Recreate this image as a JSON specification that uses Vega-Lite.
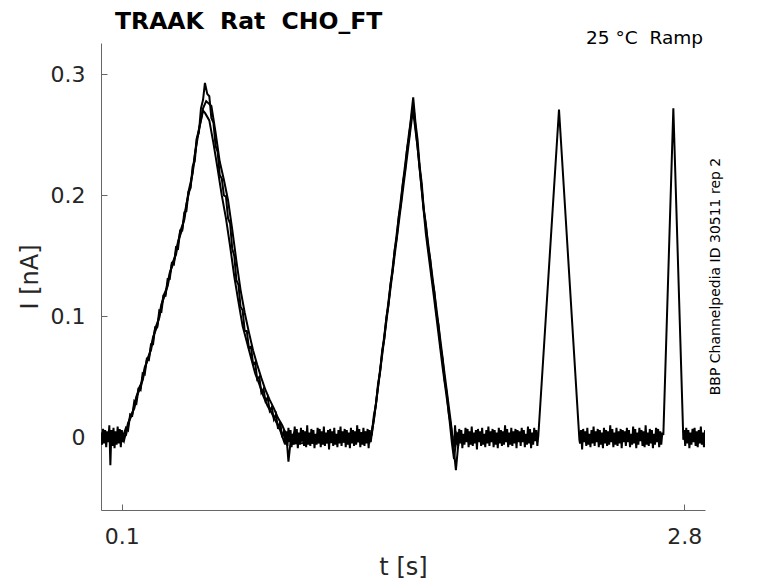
{
  "$schema": "https://vega.github.io/schema/vega-lite/v6.json",
  "width": 604,
  "height": 467,
  "autosize": {"type": "none"},
  "padding": {"left": 101, "top": 43, "right": 73, "bottom": 73},
  "config": {
    "font": "DejaVu Sans",
    "view": {"stroke": null},
    "axis": {
      "grid": false,
      "domainColor": "#666666",
      "tickColor": "#666666",
      "labelColor": "#262626",
      "titleColor": "#262626",
      "labelFontSize": 22,
      "titleFontSize": 24,
      "titleFontWeight": "normal",
      "tickSize": -6,
      "labelPadding": 22,
      "labelFlush": false
    }
  },
  "title": {
    "text": "TRAAK\u00a0 Rat\u00a0 CHO_FT",
    "anchor": "start",
    "frame": "group",
    "dx": 14,
    "offset": -4,
    "fontSize": 23.5,
    "fontWeight": "bold",
    "color": "#000000"
  },
  "datasets": {
    "a": [
      {"t": 0.000, "i": 0.004}, {"t": 0.005, "i": -0.006}, {"t": 0.010, "i": 0.007}, {"t": 0.015, "i": -0.005},
      {"t": 0.020, "i": 0.006}, {"t": 0.025, "i": -0.008}, {"t": 0.030, "i": 0.005}, {"t": 0.035, "i": -0.004},
      {"t": 0.040, "i": 0.010}, {"t": 0.045, "i": -0.023}, {"t": 0.050, "i": 0.006}, {"t": 0.055, "i": -0.007},
      {"t": 0.060, "i": 0.008}, {"t": 0.065, "i": -0.009}, {"t": 0.070, "i": 0.005}, {"t": 0.075, "i": -0.006},
      {"t": 0.080, "i": 0.009}, {"t": 0.085, "i": -0.005}, {"t": 0.090, "i": 0.007}, {"t": 0.095, "i": -0.008},
      {"t": 0.100, "i": 0.006}, {"t": 0.105, "i": -0.004}, {"t": 0.110, "i": 0.003},
      {"t": 0.12, "i": 0.008}, {"t": 0.13, "i": 0.006}, {"t": 0.14, "i": 0.019}, {"t": 0.15, "i": 0.018},
      {"t": 0.16, "i": 0.030}, {"t": 0.17, "i": 0.028}, {"t": 0.18, "i": 0.040}, {"t": 0.19, "i": 0.039},
      {"t": 0.20, "i": 0.053}, {"t": 0.21, "i": 0.052}, {"t": 0.22, "i": 0.065}, {"t": 0.23, "i": 0.064},
      {"t": 0.24, "i": 0.077}, {"t": 0.25, "i": 0.077}, {"t": 0.26, "i": 0.091}, {"t": 0.27, "i": 0.091},
      {"t": 0.28, "i": 0.105}, {"t": 0.29, "i": 0.104}, {"t": 0.30, "i": 0.117}, {"t": 0.31, "i": 0.117},
      {"t": 0.32, "i": 0.131}, {"t": 0.33, "i": 0.131}, {"t": 0.34, "i": 0.144}, {"t": 0.35, "i": 0.143},
      {"t": 0.36, "i": 0.157}, {"t": 0.37, "i": 0.156}, {"t": 0.38, "i": 0.171}, {"t": 0.39, "i": 0.171},
      {"t": 0.40, "i": 0.186}, {"t": 0.41, "i": 0.187}, {"t": 0.42, "i": 0.203}, {"t": 0.43, "i": 0.206},
      {"t": 0.44, "i": 0.224}, {"t": 0.45, "i": 0.228}, {"t": 0.46, "i": 0.247}, {"t": 0.47, "i": 0.252},
      {"t": 0.48, "i": 0.272}, {"t": 0.49, "i": 0.279}, {"t": 0.499, "i": 0.293},
      {"t": 0.51, "i": 0.284}, {"t": 0.52, "i": 0.282}, {"t": 0.53, "i": 0.264}, {"t": 0.54, "i": 0.260},
      {"t": 0.55, "i": 0.241}, {"t": 0.56, "i": 0.236}, {"t": 0.57, "i": 0.217}, {"t": 0.58, "i": 0.214},
      {"t": 0.59, "i": 0.200}, {"t": 0.60, "i": 0.199}, {"t": 0.61, "i": 0.181}, {"t": 0.62, "i": 0.177},
      {"t": 0.63, "i": 0.156}, {"t": 0.64, "i": 0.150}, {"t": 0.65, "i": 0.130}, {"t": 0.66, "i": 0.126},
      {"t": 0.67, "i": 0.108}, {"t": 0.68, "i": 0.105}, {"t": 0.69, "i": 0.088}, {"t": 0.70, "i": 0.088},
      {"t": 0.71, "i": 0.074}, {"t": 0.72, "i": 0.075}, {"t": 0.73, "i": 0.061}, {"t": 0.74, "i": 0.062},
      {"t": 0.75, "i": 0.048}, {"t": 0.76, "i": 0.050}, {"t": 0.77, "i": 0.037}, {"t": 0.78, "i": 0.040},
      {"t": 0.79, "i": 0.030}, {"t": 0.80, "i": 0.033}, {"t": 0.81, "i": 0.022}, {"t": 0.82, "i": 0.025},
      {"t": 0.83, "i": 0.015}, {"t": 0.84, "i": 0.019}, {"t": 0.85, "i": 0.007}, {"t": 0.86, "i": 0.013},
      {"t": 0.87, "i": 0.000}, {"t": 0.88, "i": 0.006}, {"t": 0.885, "i": -0.006},
      {"t": 0.890, "i": 0.005}, {"t": 0.895, "i": -0.007}, {"t": 0.900, "i": 0.008}, {"t": 0.905, "i": -0.004},
      {"t": 0.910, "i": 0.006}, {"t": 0.915, "i": -0.008}, {"t": 0.920, "i": 0.003}, {"t": 0.925, "i": -0.006},
      {"t": 0.930, "i": 0.009}, {"t": 0.935, "i": -0.005}, {"t": 0.940, "i": 0.007}, {"t": 0.945, "i": -0.009},
      {"t": 0.950, "i": 0.004}, {"t": 0.955, "i": -0.006}, {"t": 0.960, "i": 0.008}, {"t": 0.965, "i": -0.003},
      {"t": 0.970, "i": 0.006}, {"t": 0.975, "i": -0.007}, {"t": 0.980, "i": 0.005}, {"t": 0.985, "i": -0.008},
      {"t": 0.990, "i": 0.010}, {"t": 0.995, "i": -0.006}, {"t": 1.000, "i": 0.004}, {"t": 1.005, "i": -0.007},
      {"t": 1.010, "i": 0.007}, {"t": 1.015, "i": -0.005}, {"t": 1.020, "i": 0.006}, {"t": 1.025, "i": -0.009},
      {"t": 1.030, "i": 0.003}, {"t": 1.035, "i": -0.006}, {"t": 1.040, "i": 0.008}, {"t": 1.045, "i": -0.004},
      {"t": 1.050, "i": 0.007}, {"t": 1.055, "i": -0.008}, {"t": 1.060, "i": 0.005}, {"t": 1.065, "i": -0.006},
      {"t": 1.070, "i": 0.009}, {"t": 1.075, "i": -0.007}, {"t": 1.080, "i": 0.004}, {"t": 1.085, "i": -0.005},
      {"t": 1.090, "i": 0.006}, {"t": 1.095, "i": -0.010}, {"t": 1.100, "i": 0.007}, {"t": 1.105, "i": -0.004},
      {"t": 1.110, "i": 0.005}, {"t": 1.115, "i": -0.007}, {"t": 1.120, "i": 0.008}, {"t": 1.125, "i": -0.006},
      {"t": 1.130, "i": 0.003}, {"t": 1.135, "i": -0.008}, {"t": 1.140, "i": 0.006}, {"t": 1.145, "i": -0.005},
      {"t": 1.150, "i": 0.009}, {"t": 1.155, "i": -0.007}, {"t": 1.160, "i": 0.005}, {"t": 1.165, "i": -0.004},
      {"t": 1.170, "i": 0.007}, {"t": 1.175, "i": -0.008}, {"t": 1.180, "i": 0.006}, {"t": 1.185, "i": -0.006},
      {"t": 1.190, "i": 0.004}, {"t": 1.195, "i": -0.009}, {"t": 1.200, "i": 0.008}, {"t": 1.205, "i": -0.005},
      {"t": 1.210, "i": 0.006}, {"t": 1.215, "i": -0.007}, {"t": 1.220, "i": 0.005}, {"t": 1.225, "i": -0.006},
      {"t": 1.230, "i": 0.010}, {"t": 1.235, "i": -0.004}, {"t": 1.240, "i": 0.007}, {"t": 1.245, "i": -0.008},
      {"t": 1.250, "i": 0.004}, {"t": 1.255, "i": -0.006}, {"t": 1.260, "i": 0.008}, {"t": 1.265, "i": -0.007},
      {"t": 1.270, "i": 0.005}, {"t": 1.275, "i": -0.005}, {"t": 1.280, "i": 0.007}, {"t": 1.285, "i": -0.009},
      {"t": 1.290, "i": 0.006}, {"t": 1.295, "i": -0.004},
      {"t": 1.30, "i": 0.003}, {"t": 1.31, "i": 0.018}, {"t": 1.32, "i": 0.027}, {"t": 1.33, "i": 0.044},
      {"t": 1.34, "i": 0.054}, {"t": 1.35, "i": 0.072}, {"t": 1.36, "i": 0.081}, {"t": 1.37, "i": 0.099},
      {"t": 1.38, "i": 0.109}, {"t": 1.39, "i": 0.127}, {"t": 1.40, "i": 0.137}, {"t": 1.41, "i": 0.155},
      {"t": 1.42, "i": 0.165}, {"t": 1.43, "i": 0.183}, {"t": 1.44, "i": 0.193}, {"t": 1.45, "i": 0.211},
      {"t": 1.46, "i": 0.221}, {"t": 1.47, "i": 0.239}, {"t": 1.48, "i": 0.249}, {"t": 1.49, "i": 0.267},
      {"t": 1.499, "i": 0.281},
      {"t": 1.51, "i": 0.260}, {"t": 1.52, "i": 0.246}, {"t": 1.53, "i": 0.224}, {"t": 1.54, "i": 0.210},
      {"t": 1.55, "i": 0.188}, {"t": 1.56, "i": 0.176}, {"t": 1.57, "i": 0.158}, {"t": 1.58, "i": 0.148},
      {"t": 1.59, "i": 0.131}, {"t": 1.60, "i": 0.121}, {"t": 1.61, "i": 0.103}, {"t": 1.62, "i": 0.093},
      {"t": 1.63, "i": 0.075}, {"t": 1.64, "i": 0.065}, {"t": 1.65, "i": 0.047}, {"t": 1.66, "i": 0.037},
      {"t": 1.67, "i": 0.019}, {"t": 1.68, "i": 0.010}, {"t": 1.69, "i": -0.004},
      {"t": 1.695, "i": -0.008}, {"t": 1.700, "i": 0.010}, {"t": 1.705, "i": -0.006}, {"t": 1.710, "i": 0.004},
      {"t": 1.715, "i": -0.007}, {"t": 1.720, "i": 0.007}, {"t": 1.725, "i": -0.005}, {"t": 1.730, "i": 0.006},
      {"t": 1.735, "i": -0.009}, {"t": 1.740, "i": 0.003}, {"t": 1.745, "i": -0.006}, {"t": 1.750, "i": 0.008},
      {"t": 1.755, "i": -0.004}, {"t": 1.760, "i": 0.007}, {"t": 1.765, "i": -0.008}, {"t": 1.770, "i": 0.005},
      {"t": 1.775, "i": -0.006}, {"t": 1.780, "i": 0.009}, {"t": 1.785, "i": -0.007}, {"t": 1.790, "i": 0.004},
      {"t": 1.795, "i": -0.005}, {"t": 1.800, "i": 0.006}, {"t": 1.805, "i": -0.010}, {"t": 1.810, "i": 0.007},
      {"t": 1.815, "i": -0.004}, {"t": 1.820, "i": 0.005}, {"t": 1.825, "i": -0.007}, {"t": 1.830, "i": 0.008},
      {"t": 1.835, "i": -0.006}, {"t": 1.840, "i": 0.003}, {"t": 1.845, "i": -0.008}, {"t": 1.850, "i": 0.006},
      {"t": 1.855, "i": -0.005}, {"t": 1.860, "i": 0.009}, {"t": 1.865, "i": -0.007}, {"t": 1.870, "i": 0.005},
      {"t": 1.875, "i": -0.004}, {"t": 1.880, "i": 0.007}, {"t": 1.885, "i": -0.008}, {"t": 1.890, "i": 0.006},
      {"t": 1.895, "i": -0.006}, {"t": 1.900, "i": 0.004}, {"t": 1.905, "i": -0.009}, {"t": 1.910, "i": 0.008},
      {"t": 1.915, "i": -0.005}, {"t": 1.920, "i": 0.006}, {"t": 1.925, "i": -0.007}, {"t": 1.930, "i": 0.005},
      {"t": 1.935, "i": -0.006}, {"t": 1.940, "i": 0.010}, {"t": 1.945, "i": -0.004}, {"t": 1.950, "i": 0.007},
      {"t": 1.955, "i": -0.008}, {"t": 1.960, "i": 0.004}, {"t": 1.965, "i": -0.006}, {"t": 1.970, "i": 0.008},
      {"t": 1.975, "i": -0.007}, {"t": 1.980, "i": 0.005}, {"t": 1.985, "i": -0.005}, {"t": 1.990, "i": 0.007},
      {"t": 1.995, "i": -0.009}, {"t": 2.000, "i": 0.006}, {"t": 2.005, "i": -0.004}, {"t": 2.010, "i": 0.005},
      {"t": 2.015, "i": -0.007}, {"t": 2.020, "i": 0.008}, {"t": 2.025, "i": -0.004}, {"t": 2.030, "i": 0.006},
      {"t": 2.035, "i": -0.008}, {"t": 2.040, "i": 0.003}, {"t": 2.045, "i": -0.006}, {"t": 2.050, "i": 0.009},
      {"t": 2.055, "i": -0.005}, {"t": 2.060, "i": 0.007}, {"t": 2.065, "i": -0.009}, {"t": 2.070, "i": 0.004},
      {"t": 2.075, "i": -0.006}, {"t": 2.080, "i": 0.008}, {"t": 2.085, "i": -0.003}, {"t": 2.090, "i": 0.006},
      {"t": 2.095, "i": -0.007},
      {"t": 2.100, "i": 0.002}, {"t": 2.199, "i": 0.271}, {"t": 2.297, "i": -0.002},
      {"t": 2.300, "i": -0.005}, {"t": 2.305, "i": 0.006}, {"t": 2.310, "i": -0.010}, {"t": 2.315, "i": 0.007},
      {"t": 2.320, "i": -0.004}, {"t": 2.325, "i": 0.005}, {"t": 2.330, "i": -0.007}, {"t": 2.335, "i": 0.008},
      {"t": 2.340, "i": -0.006}, {"t": 2.345, "i": 0.003}, {"t": 2.350, "i": -0.008}, {"t": 2.355, "i": 0.006},
      {"t": 2.360, "i": -0.005}, {"t": 2.365, "i": 0.009}, {"t": 2.370, "i": -0.007}, {"t": 2.375, "i": 0.005},
      {"t": 2.380, "i": -0.004}, {"t": 2.385, "i": 0.007}, {"t": 2.390, "i": -0.008}, {"t": 2.395, "i": 0.006},
      {"t": 2.400, "i": -0.006}, {"t": 2.405, "i": 0.004}, {"t": 2.410, "i": -0.009}, {"t": 2.415, "i": 0.008},
      {"t": 2.420, "i": -0.005}, {"t": 2.425, "i": 0.006}, {"t": 2.430, "i": -0.007}, {"t": 2.435, "i": 0.005},
      {"t": 2.440, "i": -0.006}, {"t": 2.445, "i": 0.010}, {"t": 2.450, "i": -0.004}, {"t": 2.455, "i": 0.007},
      {"t": 2.460, "i": -0.008}, {"t": 2.465, "i": 0.004}, {"t": 2.470, "i": -0.006}, {"t": 2.475, "i": 0.008},
      {"t": 2.480, "i": -0.007}, {"t": 2.485, "i": 0.005}, {"t": 2.490, "i": -0.005}, {"t": 2.495, "i": 0.007},
      {"t": 2.500, "i": -0.009}, {"t": 2.505, "i": 0.006}, {"t": 2.510, "i": -0.004}, {"t": 2.515, "i": 0.005},
      {"t": 2.520, "i": -0.007}, {"t": 2.525, "i": 0.008}, {"t": 2.530, "i": -0.004}, {"t": 2.535, "i": 0.006},
      {"t": 2.540, "i": -0.008}, {"t": 2.545, "i": 0.003}, {"t": 2.550, "i": -0.006}, {"t": 2.555, "i": 0.009},
      {"t": 2.560, "i": -0.005}, {"t": 2.565, "i": 0.007}, {"t": 2.570, "i": -0.009}, {"t": 2.575, "i": 0.004},
      {"t": 2.580, "i": -0.006}, {"t": 2.585, "i": 0.008}, {"t": 2.590, "i": -0.003}, {"t": 2.595, "i": 0.006},
      {"t": 2.600, "i": -0.007}, {"t": 2.605, "i": 0.005}, {"t": 2.610, "i": -0.008}, {"t": 2.615, "i": 0.010},
      {"t": 2.620, "i": -0.006}, {"t": 2.625, "i": 0.004}, {"t": 2.630, "i": -0.007}, {"t": 2.635, "i": 0.007},
      {"t": 2.640, "i": -0.005}, {"t": 2.645, "i": 0.006}, {"t": 2.650, "i": -0.009}, {"t": 2.655, "i": 0.003},
      {"t": 2.660, "i": -0.006}, {"t": 2.665, "i": 0.008}, {"t": 2.670, "i": -0.004}, {"t": 2.675, "i": 0.007},
      {"t": 2.680, "i": -0.008}, {"t": 2.685, "i": 0.005}, {"t": 2.690, "i": -0.006}, {"t": 2.695, "i": 0.004},
      {"t": 2.700, "i": 0.002}, {"t": 2.748, "i": 0.272}, {"t": 2.796, "i": -0.002},
      {"t": 2.800, "i": 0.006}, {"t": 2.805, "i": -0.007}, {"t": 2.810, "i": 0.008}, {"t": 2.815, "i": -0.005},
      {"t": 2.820, "i": 0.006}, {"t": 2.825, "i": -0.009}, {"t": 2.830, "i": 0.004}, {"t": 2.835, "i": -0.006},
      {"t": 2.840, "i": 0.007}, {"t": 2.845, "i": -0.004}, {"t": 2.850, "i": 0.008}, {"t": 2.855, "i": -0.007},
      {"t": 2.860, "i": 0.005}, {"t": 2.865, "i": -0.008}, {"t": 2.870, "i": 0.006}, {"t": 2.875, "i": -0.005},
      {"t": 2.880, "i": 0.009}, {"t": 2.885, "i": -0.006}, {"t": 2.890, "i": 0.004}, {"t": 2.895, "i": -0.008},
      {"t": 2.900, "i": 0.006}
    ],
    "b": [
      {"t": 0.09, "i": 0.004}, {"t": 0.11, "i": -0.003}, {"t": 0.13, "i": 0.012}, {"t": 0.15, "i": 0.019},
      {"t": 0.17, "i": 0.034}, {"t": 0.19, "i": 0.041}, {"t": 0.21, "i": 0.058}, {"t": 0.23, "i": 0.066},
      {"t": 0.25, "i": 0.083}, {"t": 0.27, "i": 0.092}, {"t": 0.29, "i": 0.110}, {"t": 0.31, "i": 0.119},
      {"t": 0.33, "i": 0.136}, {"t": 0.35, "i": 0.145}, {"t": 0.37, "i": 0.162}, {"t": 0.39, "i": 0.172},
      {"t": 0.41, "i": 0.193}, {"t": 0.43, "i": 0.208}, {"t": 0.45, "i": 0.233}, {"t": 0.47, "i": 0.254},
      {"t": 0.49, "i": 0.272}, {"t": 0.505, "i": 0.278}, {"t": 0.53, "i": 0.274}, {"t": 0.55, "i": 0.252},
      {"t": 0.57, "i": 0.228}, {"t": 0.59, "i": 0.213}, {"t": 0.61, "i": 0.196}, {"t": 0.63, "i": 0.172},
      {"t": 0.65, "i": 0.146}, {"t": 0.67, "i": 0.122}, {"t": 0.69, "i": 0.103}, {"t": 0.71, "i": 0.087},
      {"t": 0.73, "i": 0.072}, {"t": 0.75, "i": 0.060}, {"t": 0.77, "i": 0.049}, {"t": 0.79, "i": 0.039},
      {"t": 0.81, "i": 0.031}, {"t": 0.83, "i": 0.024}, {"t": 0.85, "i": 0.016}, {"t": 0.87, "i": 0.010},
      {"t": 0.89, "i": 0.002}, {"t": 0.90, "i": -0.020}, {"t": 0.91, "i": -0.004}, {"t": 0.93, "i": 0.005},
      {"t": 0.95, "i": -0.003},
      {"t": 1.27, "i": 0.004}, {"t": 1.29, "i": -0.003}, {"t": 1.31, "i": 0.014}, {"t": 1.35, "i": 0.068},
      {"t": 1.40, "i": 0.137}, {"t": 1.45, "i": 0.205}, {"t": 1.50, "i": 0.274}, {"t": 1.55, "i": 0.188},
      {"t": 1.60, "i": 0.121}, {"t": 1.65, "i": 0.052}, {"t": 1.68, "i": 0.012}, {"t": 1.695, "i": -0.012},
      {"t": 1.704, "i": -0.027}, {"t": 1.712, "i": -0.012}, {"t": 1.72, "i": 0.002}, {"t": 1.74, "i": -0.004}
    ],
    "c": [
      {"t": 0.10, "i": -0.002}, {"t": 0.12, "i": 0.002}, {"t": 0.14, "i": 0.017}, {"t": 0.16, "i": 0.024},
      {"t": 0.18, "i": 0.040}, {"t": 0.20, "i": 0.047}, {"t": 0.22, "i": 0.064}, {"t": 0.24, "i": 0.072},
      {"t": 0.26, "i": 0.090}, {"t": 0.28, "i": 0.099}, {"t": 0.30, "i": 0.117}, {"t": 0.32, "i": 0.125},
      {"t": 0.34, "i": 0.143}, {"t": 0.36, "i": 0.151}, {"t": 0.38, "i": 0.170}, {"t": 0.40, "i": 0.180},
      {"t": 0.42, "i": 0.203}, {"t": 0.44, "i": 0.218}, {"t": 0.46, "i": 0.247}, {"t": 0.48, "i": 0.262},
      {"t": 0.49, "i": 0.270}, {"t": 0.50, "i": 0.268}, {"t": 0.52, "i": 0.262}, {"t": 0.54, "i": 0.243},
      {"t": 0.56, "i": 0.222}, {"t": 0.58, "i": 0.200}, {"t": 0.60, "i": 0.181}, {"t": 0.62, "i": 0.158},
      {"t": 0.64, "i": 0.133}, {"t": 0.66, "i": 0.112}, {"t": 0.68, "i": 0.092}, {"t": 0.70, "i": 0.079},
      {"t": 0.72, "i": 0.066}, {"t": 0.74, "i": 0.053}, {"t": 0.76, "i": 0.044}, {"t": 0.78, "i": 0.034},
      {"t": 0.80, "i": 0.026}, {"t": 0.82, "i": 0.020}, {"t": 0.84, "i": 0.013}, {"t": 0.86, "i": 0.006},
      {"t": 0.88, "i": -0.004}, {"t": 0.90, "i": 0.003}, {"t": 0.92, "i": -0.005},
      {"t": 1.28, "i": -0.003}, {"t": 1.30, "i": 0.002}, {"t": 1.32, "i": 0.028}, {"t": 1.36, "i": 0.084},
      {"t": 1.40, "i": 0.140}, {"t": 1.44, "i": 0.197}, {"t": 1.48, "i": 0.253}, {"t": 1.497, "i": 0.272},
      {"t": 1.52, "i": 0.240}, {"t": 1.56, "i": 0.168}, {"t": 1.60, "i": 0.114}, {"t": 1.64, "i": 0.058},
      {"t": 1.67, "i": 0.020}, {"t": 1.685, "i": -0.005}, {"t": 1.695, "i": -0.018}, {"t": 1.70, "i": -0.010},
      {"t": 1.71, "i": 0.003}, {"t": 1.73, "i": -0.004}
    ]
  },
  "layer": [
    {
      "data": {"name": "a"},
      "mark": {"type": "line", "color": "#000000", "strokeWidth": 2, "clip": true},
      "encoding": {
        "x": {"field": "t", "type": "quantitative", "scale": {"domain": [0, 2.9], "nice": false, "zero": false},
              "axis": {"values": [0.1, 2.8], "format": "~g", "title": "t [s]", "titlePadding": 8}},
        "y": {"field": "i", "type": "quantitative", "scale": {"domain": [-0.06, 0.326], "nice": false, "zero": false},
              "axis": {"values": [0, 0.1, 0.2, 0.3], "format": "~g", "title": "I [nA]", "titlePadding": 8}}
      }
    },
    {
      "data": {"name": "b"},
      "mark": {"type": "line", "color": "#000000", "strokeWidth": 2, "clip": true},
      "encoding": {
        "x": {"field": "t", "type": "quantitative", "scale": {"domain": [0, 2.9], "nice": false, "zero": false}},
        "y": {"field": "i", "type": "quantitative", "scale": {"domain": [-0.06, 0.326], "nice": false, "zero": false}}
      }
    },
    {
      "data": {"name": "c"},
      "mark": {"type": "line", "color": "#000000", "strokeWidth": 2, "clip": true},
      "encoding": {
        "x": {"field": "t", "type": "quantitative", "scale": {"domain": [0, 2.9], "nice": false, "zero": false}},
        "y": {"field": "i", "type": "quantitative", "scale": {"domain": [-0.06, 0.326], "nice": false, "zero": false}}
      }
    },
    {
      "data": {"values": [{"label": "25 °C\u00a0 Ramp"}]},
      "mark": {"type": "text", "align": "right", "baseline": "alphabetic", "fontSize": 18.5, "dx": -2, "dy": 1, "color": "#000000"},
      "encoding": {
        "x": {"datum": 2.9, "type": "quantitative"},
        "y": {"datum": 0.326, "type": "quantitative"},
        "text": {"field": "label"}
      }
    },
    {
      "data": {"values": [{"label": "BBP Channelpedia ID 30511 rep 2"}]},
      "mark": {"type": "text", "angle": 270, "align": "center", "baseline": "middle", "fontSize": 14, "dy": 11, "color": "#000000"},
      "encoding": {
        "x": {"datum": 2.9, "type": "quantitative"},
        "y": {"datum": 0.133, "type": "quantitative"},
        "text": {"field": "label"}
      }
    }
  ]
}
